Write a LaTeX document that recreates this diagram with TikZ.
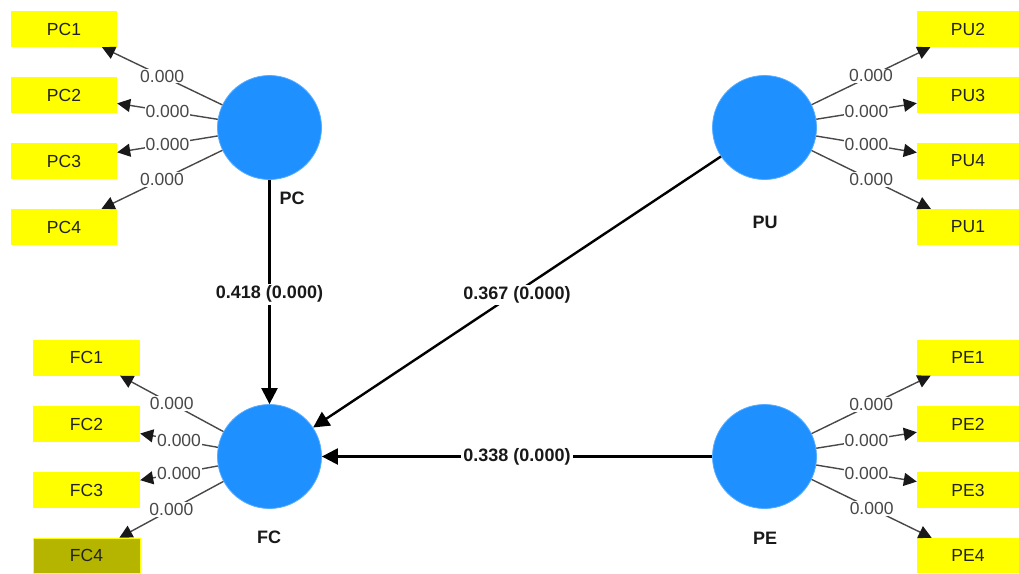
\documentclass[tikz,border=0pt]{standalone}
\usepackage{fontspec}
\setmainfont{Liberation Sans}
\usetikzlibrary{arrows.meta}
\definecolor{latentblue}{RGB}{30,144,255}
\definecolor{indyellow}{RGB}{255,255,0}
\definecolor{indolive}{RGB}{181,181,0}
\definecolor{loadgray}{RGB}{72,72,72}
\definecolor{boxtext}{RGB}{34,34,34}

\begin{document}
\begin{tikzpicture}[x=1pt,y=-1pt,
  latent/.style={circle,fill=latentblue,draw=latentblue!75!white,line width=0.8pt,
    minimum size=104pt,inner sep=0pt},
  indicator/.style={rectangle,fill=indyellow,minimum width=#1,minimum height=36pt,
    inner sep=0pt,text=boxtext,font=\fontsize{17.5}{20}\selectfont},
  indicator/.default=106pt,
  flagged/.style={fill=indolive,draw=indyellow,line width=0.6pt},
  lname/.style={font=\bfseries\fontsize{18}{20}\selectfont,text=black!90},
  loading/.style={draw=loadgray,line width=1.4pt,
    -{Triangle[length=13pt,width=13pt,color=black!90]}},
  structural/.style={draw=black,line width=2.4pt,-{Triangle[length=16pt,width=16pt]}},
  weight/.style={fill=white,inner sep=1pt,text=loadgray,font=\fontsize{17.5}{20}\selectfont},
  coef/.style={fill=white,inner sep=2pt,text=black!90,font=\bfseries\fontsize{18}{20}\selectfont}
]
\useasboundingbox (0,0) rectangle (1019,573);

% latent constructs
\node[latent] (PC) at (269.5,127.5) {};
\node[latent] (PU) at (764.5,127.5) {};
\node[latent] (FC) at (269.5,456.5) {};
\node[latent] (PE) at (764.5,456.5) {};

\node[lname] (PClab) at (292,198) {PC};
\node[lname] (PUlab) at (765,222) {PU};
\node[lname] (FClab) at (269,537) {FC};
\node[lname] (PElab) at (765,538) {PE};

% indicators of PC
\node[indicator] (PC1) at (64,29) {PC1};
\node[indicator] (PC2) at (64,95) {PC2};
\node[indicator] (PC3) at (64,161) {PC3};
\node[indicator] (PC4) at (64,227) {PC4};

% indicators of PU
\node[indicator=102pt] (PU2) at (968,29) {PU2};
\node[indicator=102pt] (PU3) at (968,95) {PU3};
\node[indicator=102pt] (PU4) at (968,161) {PU4};
\node[indicator=102pt] (PU1) at (968,227) {PU1};

% indicators of FC
\node[indicator=107pt] (FC1) at (86.5,357.5) {FC1};
\node[indicator=107pt] (FC2) at (86.5,424) {FC2};
\node[indicator=107pt] (FC3) at (86.5,490) {FC3};
\node[indicator=107pt,flagged,minimum height=35pt] (FC4) at (86.5,555.5) {FC4};

% indicators of PE
\node[indicator=102pt] (PE1) at (968,357.5) {PE1};
\node[indicator=102pt] (PE2) at (968,424) {PE2};
\node[indicator=102pt] (PE3) at (968,490) {PE3};
\node[indicator=102pt,minimum height=35pt] (PE4) at (968,555.5) {PE4};

% outer loadings
\foreach \lv/\ind in {PC/PC1,PC/PC2,PC/PC3,PC/PC4,
                      PU/PU2,PU/PU3,PU/PU4,PU/PU1,
                      FC/FC1,FC/FC2,FC/FC3,FC/FC4,
                      PE/PE1,PE/PE2,PE/PE3,PE/PE4}
  \draw[loading] (\lv) -- node[weight] {0.000} (\ind);

% structural paths
\draw[structural] (PC) -- node[coef,pos=0.51] {0.418 (0.000)} (FC);
\draw[structural] (PU) -- node[coef,yshift=-3pt] {0.367 (0.000)} (FC);
\draw[structural] (PE) -- node[coef] {0.338 (0.000)} (FC);
\end{tikzpicture}
\end{document}
